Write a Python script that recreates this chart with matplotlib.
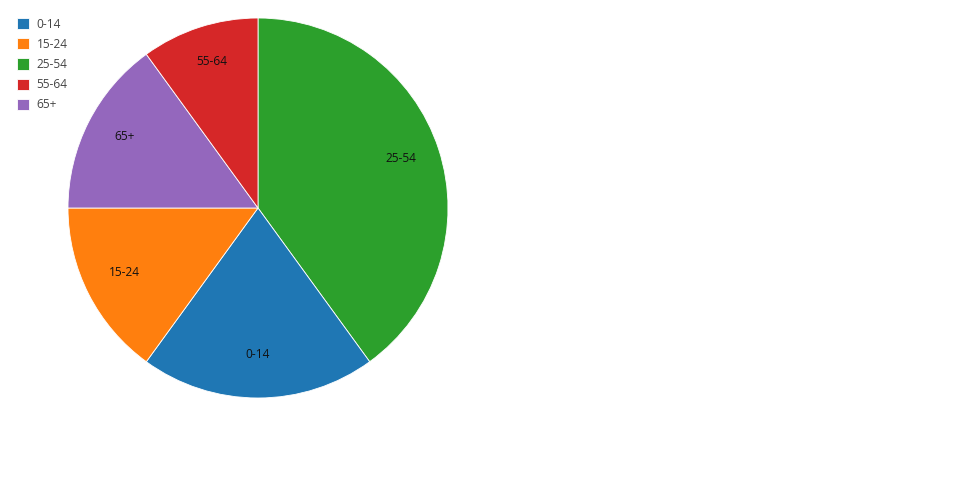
import matplotlib.pyplot as plt

labels = ["0-14", "15-24", "25-54", "55-64", "65+"]
values = [20, 15, 40, 10, 15]
colors = ["#1f77b4", "#ff7f0e", "#2ca02c", "#d62728", "#9467bd"]

plt.rcParams['font.family'] = ['Open Sans', 'DejaVu Sans']

# plotly-style ordering: largest first, clockwise from the top
order = sorted(range(len(values)), key=lambda i: -values[i])
vals = [values[i] for i in order]
labs = [labels[i] for i in order]
cols = [colors[i] for i in order]

fig = plt.figure(figsize=(9.6, 5), dpi=100)
ax = fig.add_axes([68 / 960, 102 / 500, 380 / 960, 380 / 500])
wedges, texts = ax.pie(vals, labels=labs, colors=cols, startangle=90, counterclock=False,
                       labeldistance=0.79, radius=1.0,
                       wedgeprops=dict(linewidth=0.6, edgecolor="white"),
                       textprops=dict(fontsize=8.6, color="#111111", ha="center", va="center"))
for t in texts:
    t.set_ha("center")
    x, y = t.get_position()
    t.set_position((x, y + 0.018))
ax.set_xlim(-1, 1)
ax.set_ylim(-1, 1)
ax.set_aspect("equal")

handles = [wedges[labs.index(l)] for l in labels]
leg = fig.legend(handles, labels, loc="upper left", bbox_to_anchor=(12 / 960, 1 - 13 / 500),
                 frameon=False, fontsize=8.6, handlelength=1.05, handleheight=1.05,
                 handletextpad=0.6, labelspacing=0.6, borderaxespad=0)
for t in leg.get_texts():
    t.set_color("#444444")

fig.savefig("out.png", dpi=100)
